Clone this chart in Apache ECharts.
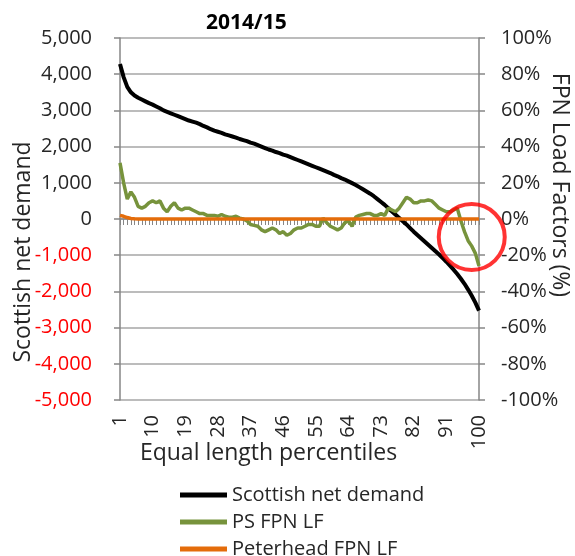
<!DOCTYPE html>
<html>
<head>
<meta charset="utf-8">
<script src="https://cdn.jsdelivr.net/npm/echarts@6/dist/echarts.min.js"></script>
<style>
  html, body { margin: 0; padding: 0; background: #fff; }
  #chart { width: 575px; height: 556px; }
</style>
</head>
<body>
<div id="chart"></div>
<script>
// percentiles 1..100
const percentiles = []
for (let p = 1; p <= 100; p++) percentiles.push(String(p))

// MW, left axis
const scottishNetDemand = [
  4280, 3920, 3650, 3500, 3410, 3350, 3300, 3250, 3200, 3160,
  3110, 3060, 3000, 2960, 2920, 2880, 2840, 2800, 2760, 2720,
  2690, 2660, 2620, 2570, 2530, 2480, 2440, 2410, 2380, 2340,
  2310, 2280, 2250, 2210, 2180, 2150, 2110, 2080, 2040, 2000,
  1960, 1920, 1890, 1850, 1820, 1780, 1750, 1710, 1670, 1630,
  1590, 1550, 1510, 1470, 1430, 1390, 1350, 1310, 1270, 1220,
  1180, 1130, 1090, 1040, 990, 940, 880, 820, 760, 700,
  630, 550, 470, 390, 300, 210, 120, 30, -60, -150,
  -250, -350, -440, -530, -620, -710, -800, -890, -980, -1080,
  -1180, -1290, -1400, -1520, -1650, -1790, -1950, -2120, -2310, -2530
]

// %, right axis
const psFpnLf = [
  31, 20, 11, 15, 12, 7, 6, 7, 9, 10,
  9, 10, 6, 4, 7, 9, 6, 5, 6, 6,
  5, 4, 3, 3, 2, 2, 2, 1.5, 2.5, 1.5,
  1, 1, 1.5, 0.5, 0, -1, -3, -3.5, -4, -6,
  -7, -6, -5, -6, -8, -7, -9, -8, -6, -5,
  -5, -4, -3, -3, -4, -4, 0.5, -2, -4, -5,
  -6, -5, -2, -1, -4, 1, 2, 2.5, 3, 3,
  2, 2, 3, 2, 6, 5, 4, 6, 9, 12,
  11, 9, 9, 10, 10, 10.5, 10, 8, 6, 5,
  4, 4, 5, 6, -1, -7, -12, -15, -19, -26
]

const peterheadFpnLf = [
  2, 1.5, 0.8, 0.3, 0.1, 0, 0, 0, 0, 0,
  0, 0, 0, 0, 0, 0, 0, 0, 0, 0,
  0, 0, 0, 0, 0, 0, 0, 0, 0, 0,
  0, 0, 0, 0, 0, 0, 0, 0, 0, 0,
  0, 0, 0, 0, 0, 0, 0, 0, 0, 0,
  0, 0, 0, 0, 0, 0, 0, 0, 0, 0,
  0, 0, 0, 0, 0, 0, 0, 0, 0, 0,
  0, 0, 0, 0, 0, 0, 0, 0, 0, 0,
  0, 0, 0, 0, 0, 0, 0, 0, 0, 0,
  0, 0, 0, 0, 0, 0, 0, 0, 0, 0
]

// red highlight circle: [category index, % value]
const highlight = [[97, -10]]

const font = 'Open Sans'
const axisGrey = '#868686'
const textDark = '#262626'

const chart = echarts.init(document.getElementById('chart'))
chart.setOption({
  animation: false,
  title: {
    text: '2014/15',
    left: 201,
    top: 8,
    textStyle: { fontFamily: font, fontSize: 21, fontWeight: 'bold', color: '#000' }
  },
  legend: {
    data: ['Scottish net demand', 'PS FPN LF', 'Peterhead FPN LF'],
    orient: 'vertical',
    left: 175,
    top: 480,
    height: 90,
    icon: 'rect',
    itemWidth: 47,
    itemHeight: 5,
    itemGap: 7,
    textStyle: { fontFamily: font, fontSize: 20, color: textDark, lineHeight: 20 }
  },
  grid: { left: 120, right: 96, top: 38, bottom: 156, outerBoundsMode: 'none' },
  xAxis: [
    {
      type: 'category',
      data: percentiles,
      boundaryGap: false,
      position: 'bottom',
      axisLine: { onZero: true, lineStyle: { color: axisGrey, width: 1.5 } },
      axisTick: { show: true, interval: 0, length: 6, lineStyle: { color: axisGrey } },
      axisLabel: { show: false },
      splitLine: { show: false }
    },
    {
      type: 'category',
      data: percentiles,
      boundaryGap: false,
      position: 'bottom',
      axisLine: { onZero: false, show: false },
      axisTick: { show: false },
      axisLabel: { interval: 8, rotate: 90, margin: 15, fontFamily: font, fontSize: 20, color: textDark },
      splitLine: { show: false },
      name: 'Equal length percentiles',
      nameLocation: 'middle',
      nameGap: 42,
      nameMoveOverlap: false,
      nameTextStyle: { fontFamily: font, fontSize: 23, color: textDark, padding: [0, 62, 0, 0] }
    }
  ],
  yAxis: [
    {
      type: 'value',
      min: -5000,
      max: 5000,
      interval: 1000,
      position: 'left',
      axisLine: { show: true, lineStyle: { color: axisGrey, width: 1.5 } },
      axisTick: { show: true, length: 6, lineStyle: { color: axisGrey, width: 1.5 } },
      axisLabel: {
        margin: 28,
        fontFamily: font,
        fontSize: 20,
        formatter: v => v.toLocaleString('en-US'),
        color: v => (Number(v) < 0 ? '#FF0000' : textDark)
      },
      splitLine: { lineStyle: { color: '#a6a6a6', width: 1.5 } },
      name: 'Scottish net demand',
      nameLocation: 'middle',
      nameGap: 85,
      nameMoveOverlap: false,
      nameTextStyle: { fontFamily: font, fontSize: 23, color: textDark, padding: [0, 66, 0, 0] }
    },
    {
      type: 'value',
      min: -100,
      max: 100,
      interval: 20,
      position: 'right',
      axisLine: { show: true, lineStyle: { color: axisGrey, width: 1.5 } },
      axisTick: { show: true, length: 6, lineStyle: { color: axisGrey, width: 1.5 } },
      axisLabel: { margin: 22, fontFamily: font, fontSize: 20, color: textDark, formatter: '{value}%' },
      splitLine: { show: false },
      name: 'FPN Load Factors (%)',
      nameLocation: 'middle',
      nameRotate: -90,
      nameGap: 69,
      nameMoveOverlap: false,
      nameTextStyle: { fontFamily: font, fontSize: 23, color: textDark, padding: [0, 68, 0, 0] }
    }
  ],
  series: [
    {
      name: 'Scottish net demand',
      type: 'line',
      xAxisIndex: 0,
      yAxisIndex: 0,
      data: scottishNetDemand,
      showSymbol: false,
      itemStyle: { color: '#000000' },
      lineStyle: { color: '#000000', width: 4 }
    },
    {
      name: 'PS FPN LF',
      type: 'line',
      xAxisIndex: 0,
      yAxisIndex: 1,
      data: psFpnLf,
      showSymbol: false,
      itemStyle: { color: '#77933C' },
      lineStyle: { color: '#77933C', width: 3.5 }
    },
    {
      name: 'Peterhead FPN LF',
      type: 'line',
      xAxisIndex: 0,
      yAxisIndex: 1,
      data: peterheadFpnLf,
      showSymbol: false,
      itemStyle: { color: '#E46C0A' },
      lineStyle: { color: '#E46C0A', width: 3.5 }
    },
    {
      name: 'highlight',
      type: 'scatter',
      xAxisIndex: 0,
      yAxisIndex: 1,
      data: highlight,
      symbol: 'circle',
      symbolSize: 66,
      z: 5,
      itemStyle: { color: 'rgba(0,0,0,0)', borderColor: '#FF0000', borderWidth: 4 }
    }
  ]
})
</script>
</body>
</html>
